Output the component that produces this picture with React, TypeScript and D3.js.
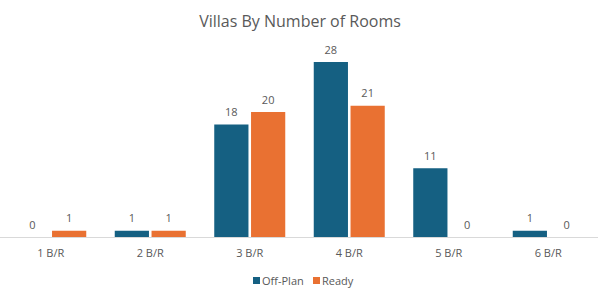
import React from "react";
import * as d3 from "d3";

const categories = ["1 B/R", "2 B/R", "3 B/R", "4 B/R", "5 B/R", "6 B/R"];
const seriesNames = ["Off-Plan", "Ready"];
const offPlan = [0, 1, 18, 28, 11, 1];
const ready = [1, 1, 20, 21, 0, 0];
const colors = ["#156082", "#E97132"];
const title = "Villas By Number of Rooms";

const W = 600;
const H = 298;
const FONT = "'Open Sans', 'Noto Sans', sans-serif";

export default function App() {
  const x = d3.scaleBand<string>().domain(categories).range([1, 598]).paddingInner(0).paddingOuter(0);
  const x1 = d3.scaleBand<string>().domain(seriesNames).range([0, 71]).paddingInner(0.07);
  const y = d3.scaleLinear().domain([0, 28]).range([237, 62]);
  const series = [offPlan, ready];
  const textColor = "#595959";

  return (
    <svg width={W} height={H} style={{ position: "absolute", left: 0, top: 0, background: "#fff" }} fontFamily={FONT}>
      <rect x={0} y={0} width={W} height={H} fill="#fff" />
      <text x={300} y={27} textAnchor="middle" fontSize={16} fill={textColor}>{title}</text>
      {categories.map((c, i) => {
        const cx = (x(c) as number) + x.bandwidth() / 2;
        const gx = cx - 35.5;
        return (
          <g key={c}>
            {series.map((s, j) => {
              const v = s[i];
              const bx = gx + (x1(seriesNames[j]) as number);
              const bw = x1.bandwidth();
              return (
                <g key={j}>
                  <rect x={bx} y={y(v)} width={bw} height={y(0) - y(v)} fill={colors[j]} />
                  <text x={bx + bw / 2} y={y(v) - 8.5} textAnchor="middle" fontSize={11} fill={textColor}>{v}</text>
                </g>
              );
            })}
            <text x={cx} y={257} textAnchor="middle" fontSize={11} fill={textColor}>{c}</text>
          </g>
        );
      })}
      <line x1={0} x2={598} y1={237.5} y2={237.5} stroke="#d9d9d9" strokeWidth={1} />
      {seriesNames.map((n, j) => {
        const lx = j === 0 ? 253 : 313;
        return (
          <g key={n}>
            <rect x={lx} y={277} width={7} height={7} fill={colors[j]} />
            <text x={lx + 9} y={285} fontSize={11} fill={textColor}>{n}</text>
          </g>
        );
      })}
    </svg>
  );
}
